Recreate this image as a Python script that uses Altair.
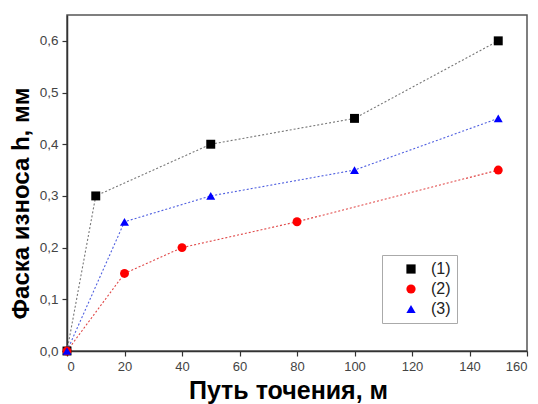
import altair as alt
import pandas as pd

series = ["(1)", "(2)", "(3)"]
x1 = [0, 10, 50, 100, 150]
y1 = [0.0, 0.30, 0.40, 0.45, 0.60]
x2 = [0, 20, 40, 80, 150]
y2 = [0.0, 0.15, 0.20, 0.25, 0.35]
x3 = [0, 20, 50, 100, 150]
y3 = [0.0, 0.25, 0.30, 0.35, 0.45]
colors = ["black", "red", "blue"]
line_colors = ["#777", "#e04848", "#5060e0"]
shapes = ["square", "circle", "triangle-up"]

rows = []
for s, xs, ys in zip(series, [x1, x2, x3], [y1, y2, y3]):
    for i, (a, b) in enumerate(zip(xs, ys)):
        rows.append({"s": s, "sl": "L" + s, "x": a, "y": b, "o": i})
df = pd.DataFrame(rows)

xenc = alt.X("x:Q", scale=alt.Scale(domain=[0, 160], nice=False),
             axis=alt.Axis(title="Путь точения, м", values=list(range(0, 161, 20)),
                           grid=False, labelFontSize=13, labelColor="#444",
                           titleFontSize=25, titleFontWeight="bold", titleColor="black",
                           titlePadding=5, titleX=221, tickSize=5, tickColor="#333",
                           domainColor="#333", domainWidth=1.5, tickWidth=1.2,
                           labelPadding=4))
yenc = alt.Y("y:Q", scale=alt.Scale(domain=[0, 0.65], nice=False),
             axis=alt.Axis(title="Фаска износа h, мм", values=[0, 0.1, 0.2, 0.3, 0.4, 0.5, 0.6],
                           labelExpr="replace(format(datum.value, '.1f'), '.', ',')",
                           grid=False, labelFontSize=13.5, labelColor="#444",
                           titleFontSize=24, titleFontWeight="bold", titleColor="black",
                           titlePadding=6, titleY=188, tickSize=5, tickColor="#333",
                           domainColor="#333", domainWidth=1.5, tickWidth=1.2,
                           labelPadding=4))

color = alt.Color("s:N", scale=alt.Scale(domain=series, range=colors),
                  legend=alt.Legend(title=None))
shape = alt.Shape("s:N", scale=alt.Scale(domain=series, range=shapes),
                  legend=alt.Legend(title=None))

lines = alt.Chart(df).mark_line(strokeDash=[2, 2], strokeWidth=1.1).encode(
    x=xenc, y=yenc, order="o:Q",
    stroke=alt.Stroke("sl:N", scale=alt.Scale(domain=["L" + s for s in series], range=line_colors),
                      legend=None),
)
pts = alt.Chart(df).mark_point(filled=True, size=80, opacity=1).encode(
    x=xenc, y=yenc, color=color, shape=shape,
)

chart = alt.layer(lines, pts).properties(
    width=460, height=336,
    autosize=alt.AutoSizeParams(type="none"),
    padding={"left": 59, "top": 7, "right": 3, "bottom": 60},
).configure(font="Liberation Sans").configure_view(
    stroke="#555", strokeWidth=1.5
).configure_legend(
    orient="none", legendX=315, legendY=240,
    strokeColor="#aaa", padding=6, labelFontSize=16,
    labelColor="#222", symbolSize=85, rowPadding=4, fillColor="white",
    symbolOffset=15, labelOffset=12,
)

chart.save("out.html", embed_options={"renderer": "svg", "actions": False})
